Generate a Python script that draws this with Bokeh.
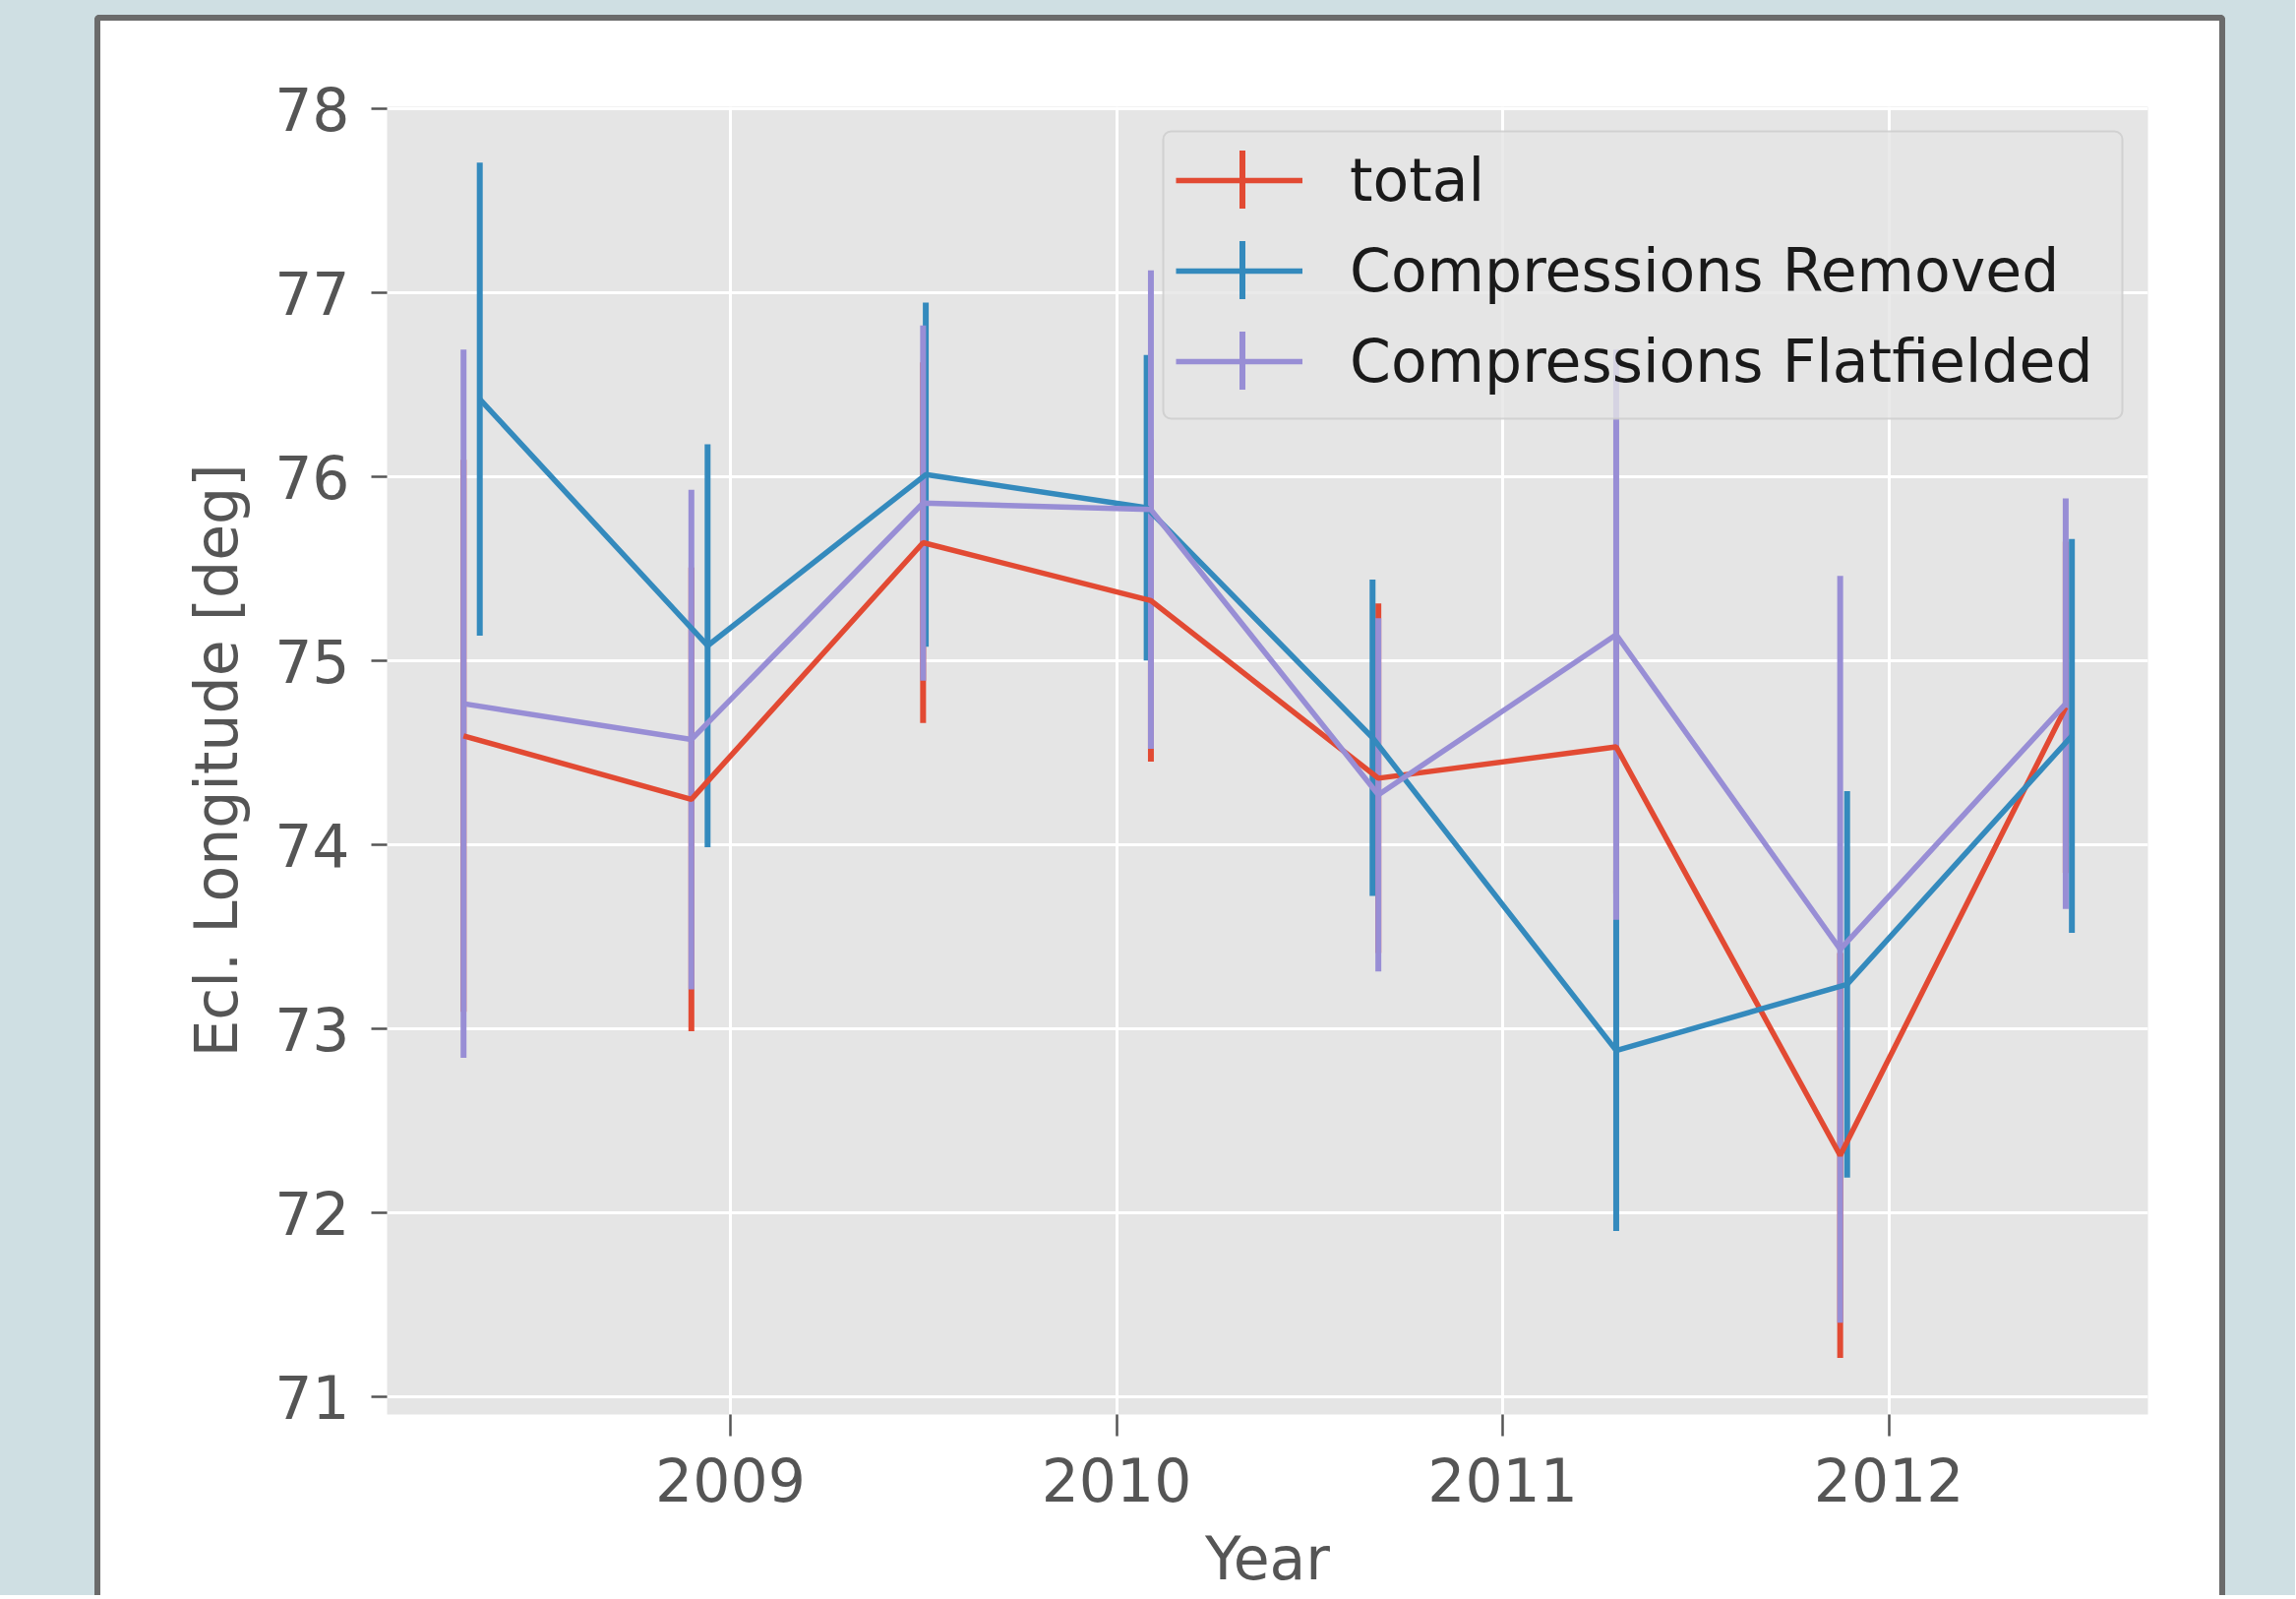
from bokeh.plotting import figure
from bokeh.layouts import column
from bokeh.models import Range1d, FixedTicker, BoxAnnotation, Legend, LegendItem, Arrow
from bokeh.embed import file_html
from bokeh.resources import INLINE

# ---------------- data ----------------
series_names = ["total", "Compressions Removed", "Compressions Flatfielded"]

year_total = [2008.309, 2008.899, 2009.499, 2010.089, 2010.678, 2011.294, 2011.874, 2012.458]
lon_total = [74.59, 74.245, 75.64, 75.325, 74.36, 74.53, 72.31, 74.745]
err_total = [1.50, 1.26, 0.98, 0.875, 0.95, 0.80, 1.10, 0.90]

year_removed = [2008.351, 2008.941, 2009.506, 2010.078, 2010.663, 2011.294, 2011.892, 2012.474]
lon_removed = [76.42, 75.08, 76.01, 75.83, 74.58, 72.88, 73.24, 74.59]
err_removed = [1.285, 1.095, 0.935, 0.83, 0.86, 0.98, 1.05, 1.07]

year_flat = [2008.309, 2008.899, 2009.499, 2010.089, 2010.678, 2011.294, 2011.874, 2012.458]
lon_flat = [74.765, 74.57, 75.855, 75.82, 74.27, 75.14, 73.43, 74.765]
err_flat = [1.925, 1.358, 0.965, 1.30, 0.96, 1.55, 2.03, 1.115]

year_ticks = [2009, 2010, 2011, 2012]
lon_ticks = [71, 72, 73, 74, 75, 76, 77, 78]

colors = ["#E24A33", "#348ABD", "#988ED5"]

# ---------------- layout ----------------
W, H = 2154, 1600
FL, FR, FT, FB = 291, 2081, 87, 1416      # frame edges, canvas px
X0, X1 = 2008.111, 2012.671
Y0, Y1 = 70.902, 78.009

p = figure(width=W, height=H, output_backend="svg", toolbar_location=None,
           x_range=Range1d(X0, X1), y_range=Range1d(Y0, Y1),
           min_border_left=FL, min_border_right=W - FR,
           min_border_top=FT, min_border_bottom=H - FB)
p.border_fill_color = "white"
p.background_fill_color = "#e5e5e5"
p.outline_line_color = None


def sx(px):
    return X0 + (px - FL) / (FR - FL) * (X1 - X0)


def sy(py):
    return Y1 - (py - FT) / (FB - FT) * (Y1 - Y0)


# axes
for ax in (p.xaxis, p.yaxis):
    ax.axis_line_color = None
    ax.major_tick_line_color = "#555555"
    ax.major_tick_line_width = 2.5
    ax.major_tick_in = 0
    ax.minor_tick_line_color = None
    ax.major_label_text_font = "DejaVu Sans"
    ax.major_label_text_font_size = "60px"
    ax.major_label_text_color = "#555555"
    ax.axis_label_text_font = "DejaVu Sans"
    ax.axis_label_text_font_size = "60px"
    ax.axis_label_text_font_style = "normal"
    ax.axis_label_text_color = "#555555"

p.xaxis.ticker = FixedTicker(ticks=year_ticks)
p.yaxis.ticker = FixedTicker(ticks=lon_ticks)
p.xaxis.major_tick_out = 22
p.xaxis.major_label_standoff = 21
p.xaxis.axis_label_standoff = 20
p.xaxis.axis_label = "Year"
p.yaxis.major_tick_out = 16
p.yaxis.major_label_standoff = 22
p.yaxis.axis_label_standoff = 21
p.yaxis.axis_label = "Ecl. Longitude [deg]"

p.xgrid.ticker = FixedTicker(ticks=year_ticks)
p.ygrid.ticker = FixedTicker(ticks=lon_ticks)
for g in (p.xgrid, p.ygrid):
    g.grid_line_color = "white"
    g.grid_line_width = 3

# ---------------- marks ----------------
data = [(year_total, lon_total, err_total),
        (year_removed, lon_removed, err_removed),
        (year_flat, lon_flat, err_flat)]

# error bars first (matplotlib draws bars below the data lines)
for (xs, ys, es), c in zip(data, colors):
    p.segment(x0=xs, y0=[y - e for y, e in zip(ys, es)],
              x1=xs, y1=[y + e for y, e in zip(ys, es)],
              line_color=c, line_width=6)

line_renderers = []
for (xs, ys, es), c in zip(data, colors):
    r = p.line(xs, ys, line_color=c, line_width=5.5)
    line_renderers.append(r)

# ---------------- legend ----------------
# legend frame (drawn as a box so the handle ticks can sit on top of it)
BOX_L, BOX_R, BOX_T, BOX_B = 1080, 2055, 112, 404          # canvas px
p.add_layout(BoxAnnotation(left=sx(BOX_L), right=sx(BOX_R),
                           top=sy(BOX_T), bottom=sy(BOX_B),
                           fill_color="#e5e5e5", fill_alpha=0.8,
                           line_color="#cccccc", line_alpha=0.8, line_width=2,
                           border_radius=8, level="annotation"))

LEG_LEFT, LEG_BOTTOM = 802, 1032      # offsets from frame bottom-left
PAD, GW, GH, SP = 15, 129, 76, 16
legend = Legend(items=[LegendItem(label=n, renderers=[r])
                       for n, r in zip(series_names, line_renderers)],
                location=(LEG_LEFT, LEG_BOTTOM),
                glyph_width=GW, glyph_height=GH, label_standoff=48,
                spacing=SP, padding=PAD, margin=0,
                border_line_color=None, background_fill_alpha=0.0,
                label_text_font="DejaVu Sans", label_text_font_size="60px",
                label_text_color="#1a1a1a")
p.add_layout(legend)

# vertical error-bar ticks of the legend handles
ROW0 = 161                     # canvas px of the first legend row centre
gx = FL + LEG_LEFT + GW / 2 + 3
for i, c in enumerate(colors):
    cy = ROW0 + i * (GH + SP)
    p.add_layout(Arrow(x_start=sx(gx), y_start=sy(cy - 29.5),
                       x_end=sx(gx), y_end=sy(cy + 29.5),
                       start=None, end=None, line_color=c, line_width=6,
                       level="annotation"))

# ---------------- card frame around the figure ----------------
card = column(p, margin=(15, 71, 0, 96),
              styles={"background-color": "white",
                      "border-top": "6px solid #6b6b6b",
                      "border-left": "6px solid #6b6b6b",
                      "border-right": "6px solid #6b6b6b",
                      "border-radius": "5px 5px 0 0"})
page = column(card, styles={"background-color": "#cfdfe3"})

open("out.html", "w").write(file_html(page, INLINE))
